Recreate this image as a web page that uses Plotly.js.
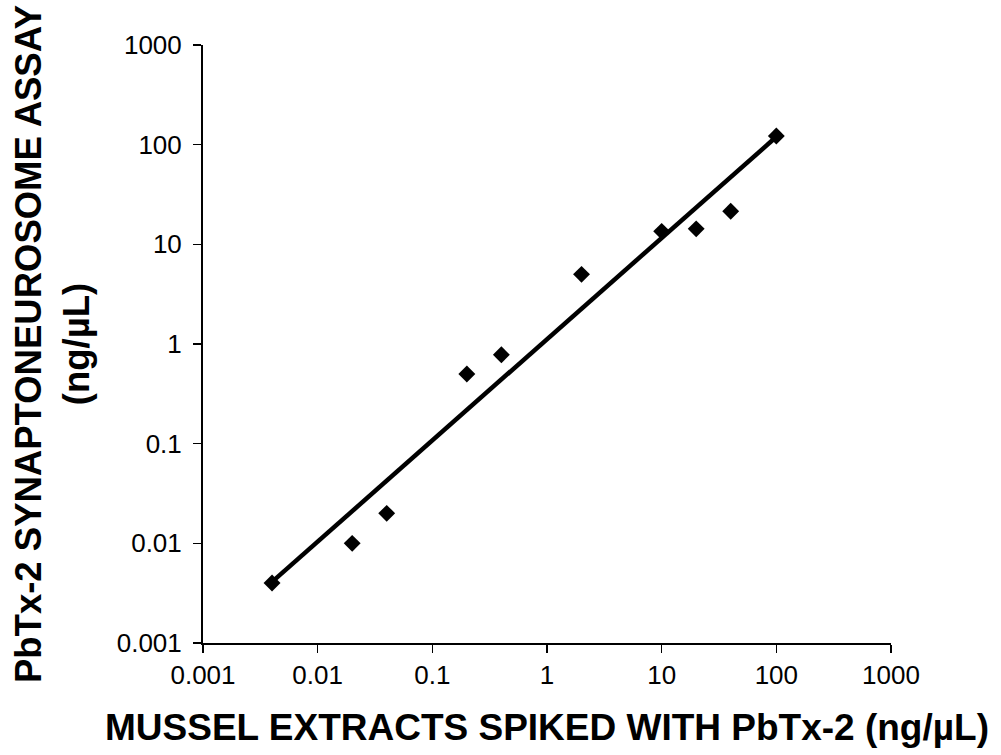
<!DOCTYPE html>
<html>
<head>
<meta charset="utf-8">
<script src="https://cdn.plot.ly/plotly-3.0.1.min.js"></script>
<style>
  html, body { margin: 0; padding: 0; background: #fff; }
  #chart { width: 1001px; height: 755px; }
</style>
</head>
<body>
<div id="chart"></div>
<script>
// Spiked mussel extract concentration vs. synaptoneurosome assay result (ng/µL)
const spikedConc = [0.004, 0.02, 0.04, 0.2, 0.4, 2, 10, 20, 40, 100];
const assayConc  = [0.004, 0.01, 0.02, 0.5, 0.78, 5, 13.5, 14.3, 21.5, 122];

// Fitted line end points
const fitX = [0.004, 100];
const fitY = [0.0041, 120];

// Decade tick labels shared by both axes
const tickVals = [0.001, 0.01, 0.1, 1, 10, 100, 1000];
const tickText = ["0.001", "0.01", "0.1", "1", "10", "100", "1000"];

const FONT = '"Liberation Sans", Arial, Helvetica, sans-serif';

const traces = [
  {
    x: fitX, y: fitY,
    type: 'scatter', mode: 'lines',
    line: { color: '#000', width: 4.5 },
    hoverinfo: 'skip', showlegend: false
  },
  {
    x: spikedConc, y: assayConc,
    type: 'scatter', mode: 'markers',
    marker: { symbol: 'diamond', size: 13, color: '#000' },
    showlegend: false
  }
];

const axisCommon = {
  type: 'log',
  range: [-3, 3],
  tickmode: 'array',
  tickvals: tickVals,
  ticktext: tickText,
  ticks: 'outside',
  ticklen: 8,
  tickwidth: 1.5,
  tickcolor: '#000',
  showline: true,
  linecolor: '#000',
  linewidth: 2,
  showgrid: false,
  zeroline: false,
  tickfont: { family: FONT, size: 26, color: '#000' },
  fixedrange: true
};

const layout = {
  width: 1001,
  height: 755,
  paper_bgcolor: '#fff',
  plot_bgcolor: '#fff',
  margin: { l: 203, r: 110, t: 45, b: 112 },
  xaxis: Object.assign({}, axisCommon, {
    title: {
      text: 'MUSSEL EXTRACTS SPIKED WITH PbTx-2 (ng/µL)',
      font: { family: FONT, size: 37, color: '#000', weight: 'bold' },
      standoff: 25
    }
  }),
  yaxis: Object.assign({}, axisCommon, {
    ticklabelstandoff: 6,
    title: {
      text: 'PbTx-2 SYNAPTONEUROSOME ASSAY<br>(ng/µL)',
      font: { family: FONT, size: 36.5, color: '#000', weight: 'bold' },
      standoff: 16
    }
  }),
  showlegend: false
};

Plotly.newPlot('chart', traces, layout, { displayModeBar: false, staticPlot: true });
</script>
</body>
</html>
